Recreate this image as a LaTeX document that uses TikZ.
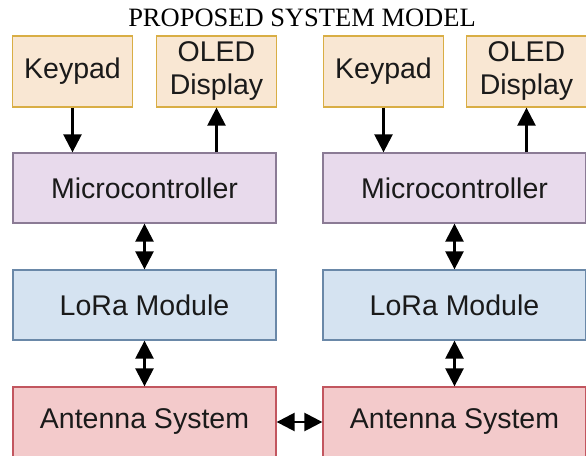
\documentclass[tikz,border=0pt]{standalone}
\usepackage{fontspec}
\setmainfont{Liberation Sans}
\newfontfamily\titlefont{Liberation Serif}
\usetikzlibrary{arrows.meta}
\definecolor{peachfill}{HTML}{F9E7D3}
\definecolor{peachdraw}{HTML}{D9AE45}
\definecolor{lavfill}{HTML}{E8DAEC}
\definecolor{lavdraw}{HTML}{8B7B95}
\definecolor{bluefill}{HTML}{D5E3F1}
\definecolor{bluedraw}{HTML}{6A88A8}
\definecolor{pinkfill}{HTML}{F3CACB}
\definecolor{pinkdraw}{HTML}{C2565F}
\definecolor{txt}{HTML}{1A1A1A}
\tikzset{
  blk/.style={draw, line width=1.3pt, inner sep=0pt, align=center, text=txt,
    font=\fontsize{28.5}{33}\selectfont},
  small/.style={blk, minimum width=120pt, minimum height=71pt, fill=peachfill, draw=peachdraw},
  wide/.style={blk, minimum width=263pt, minimum height=70pt},
  mcu/.style={wide, fill=lavfill, draw=lavdraw},
  lora/.style={wide, fill=bluefill, draw=bluedraw},
  ant/.style={wide, fill=pinkfill, draw=pinkdraw},
  tip/.tip={Triangle[width=18pt,length=18pt]},
  conn/.style={line width=2.5pt, -tip},
  bconn/.style={line width=2.5pt, tip-tip}
}
\begin{document}
\begin{tikzpicture}[x=1pt,y=-1pt]
\useasboundingbox[fill=white] (0,0) rectangle (586,455);
\node[font=\titlefont\fontsize{26.5}{30}\selectfont, anchor=base, text=black] (title) at (302,27) {PROPOSED SYSTEM MODEL};
% left column
\node[small] (kp1) at (72.5,71.5) {Keypad};
\node[small] (ol1) at (216.5,71.5) {OLED\\Display};
\node[mcu] (mc1) at (144.5,188) {Microcontroller};
\node[lora] (lr1) at (144.5,305) {LoRa Module};
\node[ant] (an1) at (144.5,422) {Antenna System};
% right column
\node[small] (kp2) at (383.5,71.5) {Keypad};
\node[small] (ol2) at (526.5,71.5) {OLED\\Display};
\node[mcu] (mc2) at (454.5,188) {Microcontroller};
\node[lora] (lr2) at (454.5,305) {LoRa Module};
\node[ant] (an2) at (454.5,422) {Antenna System};
% connectors
\draw[conn] (kp1.south) -- (kp1.south |- mc1.north);
\draw[conn] (ol1.south |- mc1.north) -- (ol1.south);
\draw[bconn] (mc1.south) -- (lr1.north);
\draw[bconn] (lr1.south) -- (an1.north);
\draw[conn] (kp2.south) -- (kp2.south |- mc2.north);
\draw[conn] (ol2.south |- mc2.north) -- (ol2.south);
\draw[bconn] (mc2.south) -- (lr2.north);
\draw[bconn] (lr2.south) -- (an2.north);
\draw[bconn] (an1.east) -- (an2.west);
\end{tikzpicture}
\end{document}
